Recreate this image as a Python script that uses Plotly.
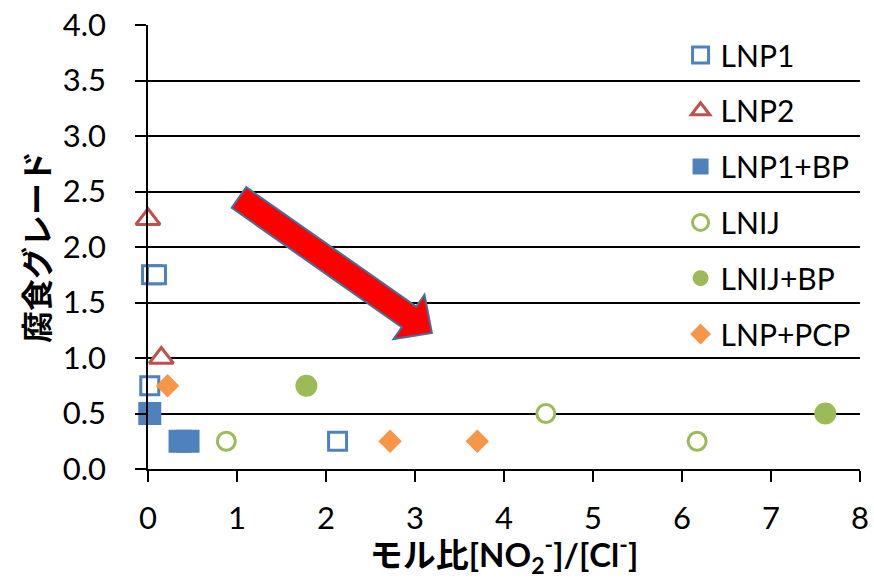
import plotly.graph_objects as go
import numpy as np

# ---- data ----
lnp1_x = [0.04, 0.095, 0.02, 2.13]
lnp1_y = [1.75, 1.75, 0.75, 0.25]
lnp2_x = [0.0, 0.15]
lnp2_y = [2.25, 1.0]
lnp1bp_x = [0.02, 0.36, 0.45]
lnp1bp_y = [0.5, 0.25, 0.25]
lnij_x = [0.88, 4.47, 6.17]
lnij_y = [0.25, 0.5, 0.25]
lnijbp_x = [1.78, 7.61]
lnijbp_y = [0.75, 0.5]
lnppcp_x = [0.22, 2.72, 3.70]
lnppcp_y = [0.75, 0.25, 0.25]

BLUE = "#4F81BD"
RED = "#C0504D"
GREEN = "#9BBB59"
ORANGE = "#F79646"

FONT = "Lato, 'Noto Sans CJK JP', sans-serif"

W, H = 874, 579
ML, MR, MT, MB = 148, 14, 25, 110
XR = [0, 8]
YR = [0, 4]

fig = go.Figure()

def add(name, xs, ys, symbol, color, filled, size):
    fig.add_trace(go.Scatter(
        x=xs, y=ys, mode="markers", name=name, legendgroup=name,
        cliponaxis=False,
        marker=dict(symbol=symbol, size=size,
                    color=color if filled else "white",
                    line=dict(color=color, width=0 if filled else 3)),
    ))

add("LNP1", lnp1_x, lnp1_y, "square", BLUE, False, 18)
add("LNP2", lnp2_x, lnp2_y, "triangle-up", RED, False, 21)
add("LNP1+BP", lnp1bp_x, lnp1bp_y, "square", BLUE, True, 23)
add("LNIJ", lnij_x, lnij_y, "circle", GREEN, False, 18)
add("LNIJ+BP", lnijbp_x, lnijbp_y, "circle", GREEN, True, 22)
add("LNP+PCP", lnppcp_x, lnppcp_y, "diamond", ORANGE, True, 18)

# ---- decorative block arrow (built in pixel space, converted to data) ----
sx = (W - ML - MR) / (XR[1] - XR[0])
sy = (H - MT - MB) / (YR[1] - YR[0])
tail = np.array([1.022 * sx, 2.446 * sy])
tip = np.array([3.19 * sx, 1.225 * sy])
d = tip - tail
u = d / np.linalg.norm(d)
n = np.array([-u[1], u[0]])
hw_shaft, hw_head, head_len = 12.6, 27.0, 28.0
base = tip - head_len * u
pts = [tail + n * hw_shaft, base + n * hw_shaft, base + n * hw_head, tip,
       base - n * hw_head, base - n * hw_shaft, tail - n * hw_shaft]
path = "M " + " L ".join(f"{p[0]/sx:.4f},{p[1]/sy:.4f}" for p in pts) + " Z"
fig.add_shape(type="path", path=path, xref="x", yref="y",
              fillcolor="#FF0000", line=dict(color="#41719C", width=2), layer="above")

fig.update_layout(
    width=W, height=H,
    margin=dict(l=ML, r=MR, t=MT, b=MB, autoexpand=False),
    paper_bgcolor="white", plot_bgcolor="white",
    font=dict(family=FONT, size=30, color="black"),
    showlegend=True,
    legend=dict(x=0.748, y=0.991, xanchor="left", yanchor="top",
                bgcolor="rgba(0,0,0,0)", font=dict(size=30),
                tracegroupgap=13.8, itemwidth=30),
    xaxis=dict(range=XR, dtick=1, showgrid=False, zeroline=False,
               showline=True, linecolor="black", linewidth=1.5,
               ticks="outside", ticklen=11, tickwidth=1.5, tickcolor="black",
               tickfont=dict(size=31), automargin=True,
               ticklabelstandoff=10,
               title=dict(text="<b>モル比[NO<sub>2</sub><sup>-</sup>]/[Cl<sup>-</sup>]</b>",
                          font=dict(size=33), standoff=12)),
    yaxis=dict(range=YR, dtick=0.5, tickformat=".1f", showgrid=True,
               gridcolor="black", gridwidth=1.5, zeroline=False,
               showline=True, linecolor="black", linewidth=1.5,
               ticks="outside", ticklen=11, tickwidth=1.5, tickcolor="black",
               tickfont=dict(size=31), automargin=True,
               ticklabelstandoff=23,
               title=dict(text="<b>腐食グレード</b>", font=dict(size=32), standoff=4)),
)

fig.write_html("out.html", config={"displayModeBar": False},
               post_script="document.body.style.margin='0';document.body.style.padding='0';")
